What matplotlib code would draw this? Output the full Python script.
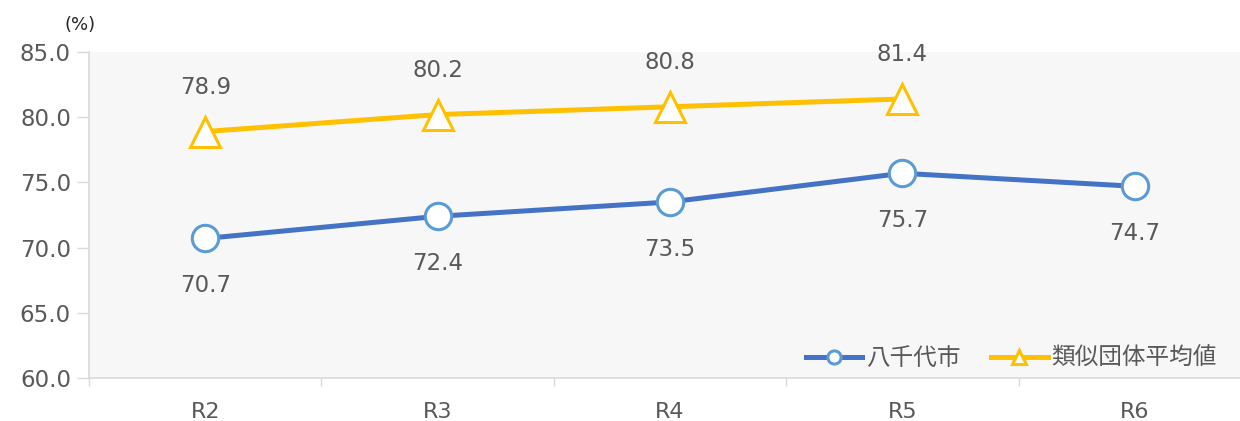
import matplotlib
matplotlib.use('Agg')
import matplotlib.pyplot as plt
import numpy as np

plt.rcParams['font.family'] = ['DejaVu Sans', 'Noto Sans CJK JP']

years = ['R2', 'R3', 'R4', 'R5', 'R6']
yachiyo = [70.7, 72.4, 73.5, 75.7, 74.7]
ruiji = [78.9, 80.2, 80.8, 81.4]
yticks = [60.0, 65.0, 70.0, 75.0, 80.0, 85.0]

blue_line = '#4472C4'
blue_edge = '#5B9BD5'
gold = '#FFC000'
text_col = '#595959'
grid_col = '#D9D9D9'

fig = plt.figure(figsize=(12.4, 4.21), dpi=100)
ax = fig.add_axes([89 / 1240, 1 - 378 / 421, 1162 / 1240, 326 / 421])
ax.set_facecolor('#F7F7F7')

x = np.arange(len(years))
ax.plot(x, yachiyo, color=blue_line, lw=3.6, marker='o', ms=19,
        mfc='white', mec=blue_edge, mew=2.2, label='八千代市', zorder=3)
ax.plot(x[:len(ruiji)], ruiji, color=gold, lw=3.6, marker='^', ms=21,
        mfc='white', mec=gold, mew=2.2, label='類似団体平均値', zorder=3)

for xi, v in zip(x, yachiyo):
    ax.annotate(f'{v:.1f}', (xi, v), xytext=(0, -34), textcoords='offset points',
                ha='center', va='center', fontsize=16.5, color=text_col)
for xi, v in zip(x, ruiji):
    ax.annotate(f'{v:.1f}', (xi, v), xytext=(0, 32), textcoords='offset points',
                ha='center', va='center', fontsize=16.5, color=text_col)

ax.set_xlim(-0.5, 4.5)
ax.set_ylim(60, 85)
ax.set_yticks(yticks)
ax.set_yticklabels([f'{t:.1f}' for t in yticks])
ax.set_xticks(x)
ax.set_xticklabels(years)
ax.set_xticks(np.arange(-0.5, 5, 1), minor=True)
ax.tick_params(axis='x', which='major', length=0, pad=17, labelsize=16, labelcolor=text_col)
ax.tick_params(axis='x', which='minor', length=6, color=grid_col, width=1)
ax.tick_params(axis='y', length=9, color=grid_col, width=1, pad=4, labelsize=16.5, labelcolor=text_col)

for s in ['top', 'right']:
    ax.spines[s].set_visible(False)
for s in ['left', 'bottom']:
    ax.spines[s].set_color(grid_col)
    ax.spines[s].set_linewidth(1.2)

fig.text(80 / 1240, 1 - 25 / 421, '(%)', ha='center', va='center', fontsize=13, color='#222222')

leg = ax.legend(loc='lower right', bbox_to_anchor=((1226 - 89) / 1162, -0.005), ncol=2,
                frameon=False, fontsize=17, handlelength=2.4, markerscale=0.5,
                columnspacing=1.3, handletextpad=0.15, borderaxespad=0.0)
for t in leg.get_texts():
    t.set_color(text_col)

fig.savefig('out.png', dpi=100)
